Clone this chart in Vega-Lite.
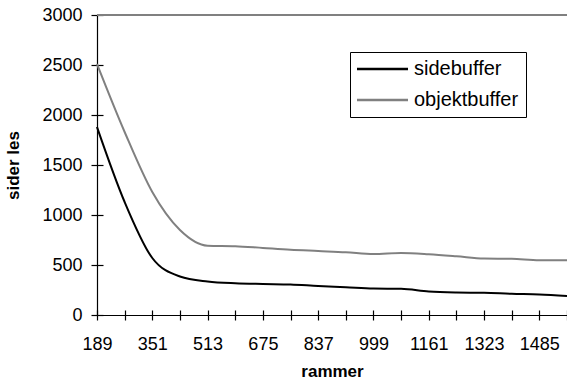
{
  "$schema": "https://vega.github.io/schema/vega-lite/v6.json",
  "width": 470,
  "height": 300,
  "autosize": "none",
  "padding": {"left": 97, "top": 15, "right": 0, "bottom": 70},
  "background": "white",
  "config": {
    "view": {"stroke": null},
    "font": "Liberation Sans",
    "axis": {
      "grid": false,
      "domainColor": "#000000",
      "tickColor": "#000000",
      "domainWidth": 1.2,
      "tickWidth": 1.2,
      "labelColor": "#000000",
      "titleColor": "#000000",
      "labelFont": "Liberation Sans",
      "titleFont": "Liberation Sans",
      "labelFontSize": 18,
      "titleFontSize": 17,
      "titleFontWeight": "bold",
      "labelFlush": false,
      "labelOverlap": false,
      "labelBound": false
    }
  },
  "data": {
    "values": [
      {"rammer": 189, "sider": 1880, "buffer": "sidebuffer"},
      {"rammer": 270, "sider": 1130, "buffer": "sidebuffer"},
      {"rammer": 351, "sider": 570, "buffer": "sidebuffer"},
      {"rammer": 432, "sider": 385, "buffer": "sidebuffer"},
      {"rammer": 513, "sider": 335, "buffer": "sidebuffer"},
      {"rammer": 594, "sider": 317, "buffer": "sidebuffer"},
      {"rammer": 675, "sider": 310, "buffer": "sidebuffer"},
      {"rammer": 756, "sider": 305, "buffer": "sidebuffer"},
      {"rammer": 837, "sider": 290, "buffer": "sidebuffer"},
      {"rammer": 918, "sider": 278, "buffer": "sidebuffer"},
      {"rammer": 999, "sider": 265, "buffer": "sidebuffer"},
      {"rammer": 1080, "sider": 262, "buffer": "sidebuffer"},
      {"rammer": 1161, "sider": 235, "buffer": "sidebuffer"},
      {"rammer": 1242, "sider": 225, "buffer": "sidebuffer"},
      {"rammer": 1323, "sider": 222, "buffer": "sidebuffer"},
      {"rammer": 1404, "sider": 212, "buffer": "sidebuffer"},
      {"rammer": 1485, "sider": 205, "buffer": "sidebuffer"},
      {"rammer": 1566, "sider": 190, "buffer": "sidebuffer"},
      {"rammer": 189, "sider": 2510, "buffer": "objektbuffer"},
      {"rammer": 270, "sider": 1830, "buffer": "objektbuffer"},
      {"rammer": 351, "sider": 1230, "buffer": "objektbuffer"},
      {"rammer": 432, "sider": 850, "buffer": "objektbuffer"},
      {"rammer": 513, "sider": 693, "buffer": "objektbuffer"},
      {"rammer": 594, "sider": 688, "buffer": "objektbuffer"},
      {"rammer": 675, "sider": 670, "buffer": "objektbuffer"},
      {"rammer": 756, "sider": 652, "buffer": "objektbuffer"},
      {"rammer": 837, "sider": 640, "buffer": "objektbuffer"},
      {"rammer": 918, "sider": 628, "buffer": "objektbuffer"},
      {"rammer": 999, "sider": 610, "buffer": "objektbuffer"},
      {"rammer": 1080, "sider": 620, "buffer": "objektbuffer"},
      {"rammer": 1161, "sider": 608, "buffer": "objektbuffer"},
      {"rammer": 1242, "sider": 588, "buffer": "objektbuffer"},
      {"rammer": 1323, "sider": 565, "buffer": "objektbuffer"},
      {"rammer": 1404, "sider": 562, "buffer": "objektbuffer"},
      {"rammer": 1485, "sider": 548, "buffer": "objektbuffer"},
      {"rammer": 1566, "sider": 548, "buffer": "objektbuffer"}
    ]
  },
  "resolve": {"axis": {"x": "independent", "y": "independent"}},
  "layer": [
    {
      "data": {"values": [{"top": 3000}]},
      "mark": {"type": "rule", "color": "#808080", "strokeWidth": 2},
      "encoding": {
        "y": {"field": "top", "type": "quantitative", "scale": {"domain": [0, 3000], "nice": false}, "axis": null}
      }
    },
    {
      "mark": {"type": "line", "interpolate": "monotone", "strokeWidth": 2},
      "encoding": {
        "x": {
          "field": "rammer",
          "type": "quantitative",
          "scale": {"domain": [189, 1566], "nice": false, "zero": false},
          "axis": {
            "orient": "bottom",
            "title": "rammer",
            "values": [189, 270, 351, 432, 513, 594, 675, 756, 837, 918, 999, 1080, 1161, 1242, 1323, 1404, 1485, 1566],
            "format": "d",
            "labelExpr": "(datum.value - 189) % 162 == 0 ? datum.label : ''",
            "tickSize": 5,
            "labelPadding": 15,
            "titlePadding": 10
          }
        },
        "y": {
          "field": "sider",
          "type": "quantitative",
          "scale": {"domain": [0, 3000], "nice": false},
          "axis": {
            "orient": "left",
            "title": "sider les",
            "values": [0, 500, 1000, 1500, 2000, 2500, 3000],
            "format": "d",
            "tickSize": 6,
            "labelPadding": 9,
            "titlePadding": 19
          }
        },
        "color": {
          "field": "buffer",
          "type": "nominal",
          "scale": {"domain": ["sidebuffer", "objektbuffer"], "range": ["#000000", "#808080"]},
          "legend": {
            "title": null,
            "orient": "none",
            "legendX": 253,
            "legendY": 37,
            "strokeColor": "#000000",
            "fillColor": "#ffffff",
            "padding": 7,
            "symbolType": "M-2,0H8.2",
            "symbolSize": 100,
            "symbolStrokeWidth": 2.5,
            "labelFontSize": 20,
            "labelFont": "Liberation Sans",
            "labelColor": "#000000",
            "labelOffset": 37,
            "rowPadding": 11
          }
        }
      }
    },
    {
      "mark": {"type": "point", "opacity": 0},
      "encoding": {
        "x": {
          "field": "rammer",
          "type": "quantitative",
          "axis": {
            "orient": "bottom",
            "title": null,
            "labels": false,
            "domain": false,
            "values": [189, 270, 351, 432, 513, 594, 675, 756, 837, 918, 999, 1080, 1161, 1242, 1323, 1404, 1485, 1566],
            "tickSize": -5
          }
        },
        "y": {
          "field": "sider",
          "type": "quantitative",
          "axis": {
            "orient": "left",
            "title": null,
            "labels": false,
            "domain": false,
            "values": [0, 500, 1000, 1500, 2000, 2500, 3000],
            "tickSize": -6
          }
        }
      }
    }
  ]
}
